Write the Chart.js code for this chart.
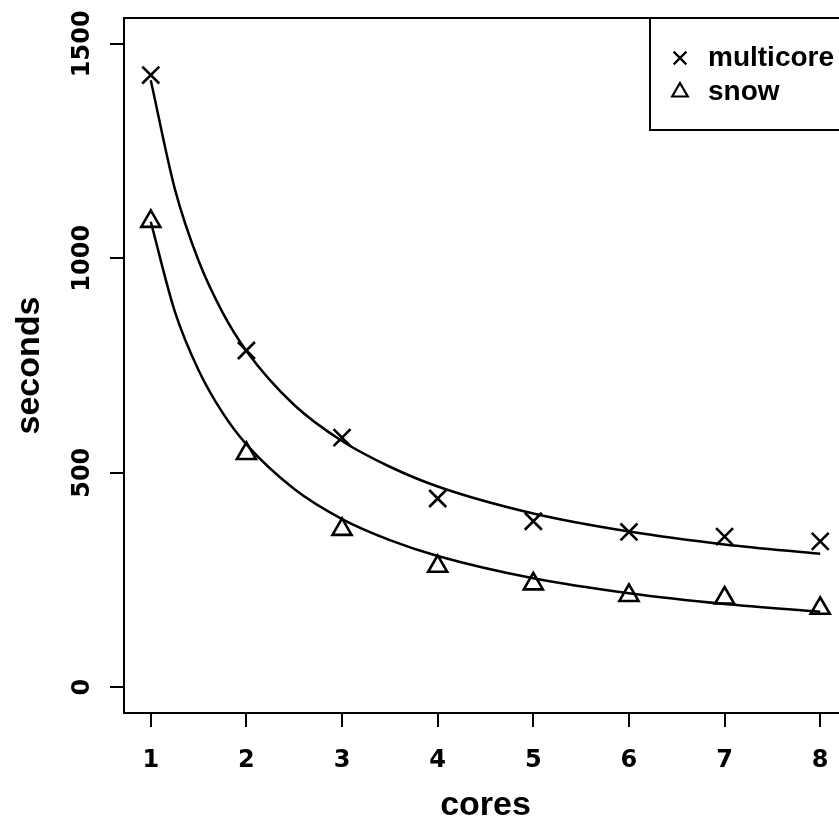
<!DOCTYPE html>
<html><head><meta charset="utf-8">
<script src="https://cdn.jsdelivr.net/npm/chart.js@4.4.1/dist/chart.umd.min.js"></script>
<style>html,body{margin:0;padding:0;background:#fff;overflow:hidden;}#wrap{position:relative;width:862px;height:820px;}canvas{display:block;}</style>
</head><body><div id="wrap"><canvas id="c" width="862" height="820" style="width:862px;height:820px;"></canvas></div>
<script>
const cores = [1,2,3,4,5,6,7,8];
const multicoreSeconds = [1427,785,582,440,387,362,351,340];
const snowSeconds = [1086,545,368,282,241,214,208,184];
const curveCores = [1,1.25,1.5,1.75,2,2.5,3,3.5,4,5,6,7,8];
const multicoreFit = [1415,1163,994,874,784,658,574,514,468,405,363,333,311];
const snowFit = [1085,877,739,640,566,462,392,343,306,254,219,194,176];
const xTicks = [1,2,3,4,5,6,7,8];
const yTicks = [0,500,1000,1500];
const seriesNames = ['multicore','snow'];
const xTitle = 'cores';
const yTitle = 'seconds';

const pts = (xs, ys) => xs.map((x,i)=>({x:x, y:ys[i]}));

const boxPlugin = {
  id:'rbox',
  afterDatasetsDraw(chart){
    const {ctx, chartArea:a} = chart;
    ctx.save();
    ctx.strokeStyle='#000'; ctx.lineWidth=2;
    ctx.strokeRect(a.left, a.top, a.right-a.left, a.bottom-a.top);
    ctx.restore();
  }
};
const legendPlugin = {
  id:'rlegend',
  afterDraw(chart){
    const {ctx, chartArea} = chart;
    const L = 650, T = chartArea.top, B = 130, R = chartArea.right;
    ctx.save();
    ctx.fillStyle='#fff'; ctx.fillRect(L,T,R-L,B-T);
    ctx.strokeStyle='#000'; ctx.lineWidth=2; ctx.strokeRect(L,T,R-L,B-T);
    const items = chart.data.datasets.filter(d=>d.inLegend);
    items.forEach((d,i)=>{
      const y = 58 + i*34;
      ctx.lineWidth=2.2; ctx.strokeStyle='#000'; ctx.fillStyle='rgba(0,0,0,0)';
      Chart.helpers.drawPoint(ctx,{pointStyle:d.pointStyle, radius:9, borderWidth:2.2, rotation:0}, 680, y);
      ctx.fillStyle='#000'; ctx.font='bold 28px "Liberation Sans", Arial, sans-serif';
      ctx.textBaseline='middle'; ctx.textAlign='left';
      ctx.fillText(d.label, 708, y);
    });
    ctx.restore();
  }
};

const tickFont = {family:'"DejaVu Sans", sans-serif', weight:'bold', size:24};
const titleFont = {family:'"Liberation Sans", Arial, sans-serif', weight:'bold', size:34, lineHeight:1};

new Chart(document.getElementById('c'), {
  type:'scatter',
  data:{
    datasets:[
      {label:seriesNames[0]+' fit', data:pts(curveCores, multicoreFit), showLine:true, cubicInterpolationMode:'monotone',
       borderColor:'#000', borderWidth:2.5, pointRadius:0, fill:false},
      {label:seriesNames[1]+' fit', data:pts(curveCores, snowFit), showLine:true, cubicInterpolationMode:'monotone',
       borderColor:'#000', borderWidth:2.5, pointRadius:0, fill:false},
      {label:seriesNames[0], inLegend:true, data:pts(cores, multicoreSeconds), showLine:false, pointStyle:'crossRot',
       pointRadius:12, pointBorderWidth:2.6, borderColor:'#000', backgroundColor:'rgba(0,0,0,0)'},
      {label:seriesNames[1], inLegend:true, data:pts(cores, snowSeconds), showLine:false, pointStyle:'triangle',
       pointRadius:11, pointBorderWidth:2.6, borderColor:'#000', backgroundColor:'rgba(0,0,0,0)'}
    ]
  },
  options:{
    responsive:false, animation:false, devicePixelRatio:1,
    layout:{padding:{top:18, right:15, bottom:0, left:0}},
    plugins:{legend:{display:false}, tooltip:{enabled:false}},
    scales:{
      x:{type:'linear', min:0.72, max:8.28,
         afterBuildTicks(s){ s.ticks = xTicks.map(v=>({value:v})); },
         afterFit(s){ s.height = 107; s.paddingLeft = 0; s.paddingRight = 0; },
         grid:{display:true, drawOnChartArea:false, drawTicks:true, tickLength:14, color:'#000', lineWidth:2},
         border:{display:false},
         ticks:{font:tickFont, color:'#000', padding:19, maxRotation:0, autoSkip:false, callback:v=>String(v)},
         title:{display:true, text:xTitle, font:titleFont, color:'#000', padding:{top:0,bottom:-3}}
      },
      y:{type:'linear', min:-60, max:1560,
         afterBuildTicks(s){ s.ticks = yTicks.map(v=>({value:v})); },
         afterFit(s){ s.width = 124; s.paddingTop = 0; s.paddingBottom = 0; },
         grid:{display:true, drawOnChartArea:false, drawTicks:true, tickLength:14, color:'#000', lineWidth:2},
         border:{display:false},
         ticks:{font:tickFont, color:'#000', padding:-6, minRotation:90, maxRotation:90, crossAlign:'center', autoSkip:false, callback:v=>String(v)},
         title:{display:true, text:yTitle, font:titleFont, color:'#000', padding:{top:13,bottom:0}}
      }
    }
  },
  plugins:[boxPlugin, legendPlugin]
});
</script>
</body></html>
